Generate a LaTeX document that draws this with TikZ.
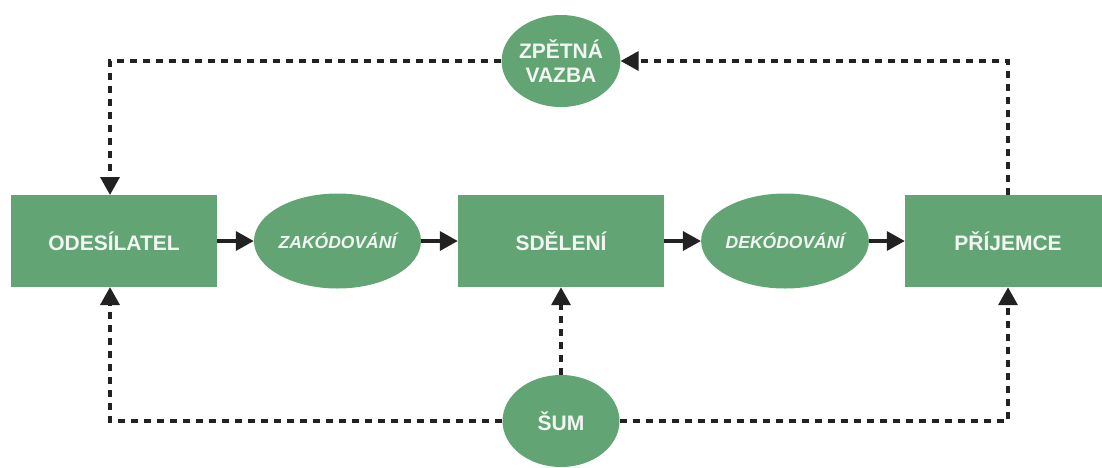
\documentclass[tikz,border=0pt]{standalone}
\usepackage{fontspec}
\setmainfont{Liberation Sans}
\usetikzlibrary{shapes.geometric,arrows.meta}
\definecolor{boxgreen}{HTML}{62A474}
\definecolor{txt}{HTML}{F2F6F2}
\definecolor{ink}{HTML}{222222}
\tikzset{
  stepbox/.style={rectangle, fill=boxgreen, draw=none, minimum width=206pt, minimum height=92pt, inner sep=0pt,
    text=txt, font=\fontsize{21}{24}\selectfont\bfseries},
  proc/.style={ellipse, fill=boxgreen, draw=none, minimum width=167pt, minimum height=95pt, inner sep=0pt,
    text=txt, font=\fontsize{17.5}{20}\selectfont\bfseries\itshape},
  small/.style={ellipse, fill=boxgreen, draw=none, minimum width=117pt, minimum height=92pt, inner sep=0pt,
    text=txt, align=center, font=\fontsize{21}{24}\selectfont\bfseries},
  flow/.style={draw=ink, line width=3.5pt, -{Triangle[length=18pt,width=19pt]}},
  dotted flow/.style={flow, dash pattern=on 7pt off 6pt},
}
\begin{document}
\begin{tikzpicture}[x=1pt,y=-1pt]
\useasboundingbox (0,0) rectangle (1102,467);
\node[stepbox] (send) at (114,241) {ODESÍLATEL};
\node[proc] (enc) at (337.5,241) {ZAKÓDOVÁNÍ};
\node[stepbox] (msg) at (561,241) {SDĚLENÍ};
\node[proc] (dec) at (785,241) {DEKÓDOVÁNÍ};
\node[stepbox] (recv) at (1008,241) {PŘÍJEMCE};
\node[small] (fb) at (561,61) {ZPĚTNÁ\\VAZBA};
\node[small] (noise) at (561,421) {ŠUM};
\coordinate (sendtop) at (110,195);
\coordinate (sendbot) at (110,287);
\draw[flow] (send.east) -- (enc.west);
\draw[flow] (enc.east) -- (msg.west);
\draw[flow] (msg.east) -- (dec.west);
\draw[flow] (dec.east) -- (recv.west);
\draw[dotted flow] (recv.north) |- (fb.east);
\draw[dotted flow] (fb.west) -| (sendtop);
\draw[dotted flow] (noise.north) -- (msg.south);
\draw[dotted flow] (noise.west) -| (sendbot);
\draw[dotted flow] (noise.east) -| (recv.south);
\end{tikzpicture}
\end{document}
